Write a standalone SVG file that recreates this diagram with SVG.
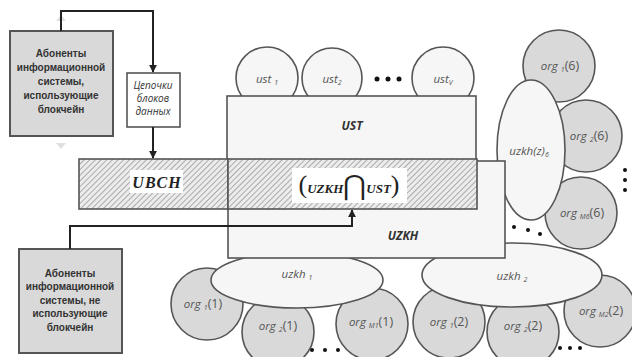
<svg xmlns="http://www.w3.org/2000/svg" width="632" height="357" viewBox="0 0 632 357">
<defs>
<pattern id="hatch" width="4" height="4" patternUnits="userSpaceOnUse" patternTransform="rotate(45)">
<rect width="4" height="4" fill="#ececec"/>
<line x1="0" y1="0" x2="0" y2="4" stroke="#8f8f8f" stroke-width="1.4"/>
</pattern>
<marker id="arr" viewBox="0 0 10 10" refX="9" refY="5" markerWidth="4" markerHeight="4" orient="auto">
<path d="M0,0 L10,5 L0,10 z" fill="#222"/>
</marker>
<style>
.sh{stroke:#555;stroke-width:1.6}
.org{fill:#d9d9d9}
.lt{fill:#f6f6f6}
.box{fill:#d9d9d9;stroke:#555;stroke-width:2}
.lbl{font-family:"Open Sans","Liberation Sans",sans-serif;font-style:italic;font-size:11.5px;fill:#555;text-anchor:middle}
.sub{font-size:7px}
.up{font-style:normal;font-size:12.5px}
.bt{font-family:"Liberation Sans",sans-serif;font-weight:bold;font-size:10px;fill:#333;text-anchor:middle}
.big{font-family:"Open Sans","Liberation Sans",sans-serif;font-style:italic;font-weight:bold;font-size:12px;fill:#333;text-anchor:middle}
.conn{fill:none;stroke:#222;stroke-width:2}
.dot{fill:#111}
</style>
</defs>
<rect width="632" height="357" fill="#fff"/>

<!-- org circles around uzkh(z)6 -->
<g id="org1_6"><circle class="org sh" cx="559" cy="66" r="36"/><text class="lbl" x="560" y="70">org <tspan class="sub" dy="2">1</tspan><tspan class="up" dy="-2">(6)</tspan></text></g>
<g id="org2_6"><circle class="org sh" cx="586" cy="136" r="36"/><text class="lbl" x="589" y="140">org <tspan class="sub" dy="2">2</tspan><tspan class="up" dy="-2">(6)</tspan></text></g>
<g id="orgM6_6"><circle class="org sh" cx="581" cy="213" r="36"/><text class="lbl" x="582" y="217">org <tspan class="sub" dy="2">M6</tspan><tspan class="up" dy="-2">(6)</tspan></text></g>
<g id="uzkhz6"><ellipse class="lt sh" cx="531" cy="150" rx="34" ry="70"/><text class="lbl" x="529" y="155">uzkh(z)<tspan class="sub" dy="2">6</tspan></text></g>

<!-- bottom org circles -->
<g id="org1_1"><circle class="org sh" cx="207" cy="304" r="36"/><text class="lbl" x="203" y="308">org <tspan class="sub" dy="2">1</tspan><tspan class="up" dy="-2">(1)</tspan></text></g>
<g id="org2_1"><circle class="org sh" cx="278" cy="332" r="36"/><text class="lbl" x="278" y="330">org <tspan class="sub" dy="2">2</tspan><tspan class="up" dy="-2">(1)</tspan></text></g>
<g id="orgM1_1"><circle class="org sh" cx="372" cy="324" r="36"/><text class="lbl" x="371" y="326">org <tspan class="sub" dy="2">M1</tspan><tspan class="up" dy="-2">(1)</tspan></text></g>
<g id="org1_2"><circle class="org sh" cx="449" cy="322" r="36"/><text class="lbl" x="449" y="326">org <tspan class="sub" dy="2">1</tspan><tspan class="up" dy="-2">(2)</tspan></text></g>
<g id="org2_2"><circle class="org sh" cx="523" cy="332" r="36"/><text class="lbl" x="523" y="330">org <tspan class="sub" dy="2">2</tspan><tspan class="up" dy="-2">(2)</tspan></text></g>
<g id="orgM2_2"><circle class="org sh" cx="600" cy="311" r="36"/><text class="lbl" x="601" y="315">org <tspan class="sub" dy="2">M2</tspan><tspan class="up" dy="-2">(2)</tspan></text></g>

<g id="uzkh1"><ellipse class="lt sh" cx="297" cy="280" rx="86" ry="28"/><text class="lbl" x="297" y="278">uzkh <tspan class="sub" dy="2">1</tspan></text></g>
<g id="uzkh2"><ellipse class="lt sh" cx="512" cy="275" rx="90" ry="32"/><text class="lbl" x="512" y="280">uzkh <tspan class="sub" dy="2">2</tspan></text></g>

<!-- ust circles -->
<g id="ust1"><circle class="lt sh" cx="267" cy="78" r="31"/><text class="lbl" x="267" y="83">ust <tspan class="sub" dy="2">1</tspan></text></g>
<g id="ust2"><circle class="lt sh" cx="332" cy="78" r="30"/><text class="lbl" x="332" y="83">ust<tspan class="sub" dy="2">2</tspan></text></g>
<g id="ustV"><circle class="lt sh" cx="443" cy="78" r="31"/><text class="lbl" x="443" y="83">ust<tspan class="sub" dy="2">V</tspan></text></g>

<!-- UST and UZKH -->
<g id="UST"><rect class="lt sh" x="227" y="96" width="249" height="113"/><text class="big" x="352" y="130">UST</text></g>
<g id="UZKH"><rect class="lt sh" x="228" y="161" width="277" height="97"/><text class="big" x="403" y="240">UZKH</text></g>

<!-- hatched band -->
<g id="UBCH">
<rect x="79" y="159" width="149" height="50" fill="url(#hatch)" class="sh"/>
<rect x="130" y="170" width="53" height="23" fill="#fff"/>
<text x="157" y="188" font-family="'Liberation Serif',serif" font-weight="bold" font-style="italic" font-size="16" letter-spacing="1" fill="#222" text-anchor="middle">UBCH</text>
</g>
<g id="intersection">
<rect x="228" y="159" width="249" height="50" fill="url(#hatch)" class="sh"/>
<rect x="292" y="168" width="115" height="35" fill="#fff"/>
<text x="349" y="193" font-family="'Liberation Serif',serif" fill="#222" text-anchor="middle"><tspan font-size="26">(</tspan><tspan font-size="13" font-weight="bold" font-style="italic">UZKH</tspan><tspan font-size="28" font-family="'DejaVu Serif',serif" dy="2">⋂</tspan><tspan font-size="13" font-weight="bold" font-style="italic" dy="-2">UST</tspan><tspan font-size="26">)</tspan></text>
</g>

<!-- left boxes -->
<g id="subscribers_bc">
<path d="M56,21 L61,15 L66,21 z" fill="#e0e0e0"/>
<path d="M56,143 L61,149 L66,143 z" fill="#e0e0e0"/>
<rect class="box" x="10" y="31" width="103" height="105"/>
<text class="bt" x="61" y="57">Абоненты</text>
<text class="bt" x="61" y="71">информационной</text>
<text class="bt" x="61" y="85">системы,</text>
<text class="bt" x="61" y="99">использующие</text>
<text class="bt" x="61" y="113">блокчейн</text>
</g>
<g id="chains">
<rect x="127" y="73" width="53" height="54" fill="#fff" stroke="#555" stroke-width="1.6"/>
<text x="153" y="89" font-family="'Open Sans',sans-serif" font-style="italic" font-size="10" fill="#333" text-anchor="middle">Цепочки</text>
<text x="153" y="102" font-family="'Open Sans',sans-serif" font-style="italic" font-size="10" fill="#333" text-anchor="middle">блоков</text>
<text x="153" y="115" font-family="'Open Sans',sans-serif" font-style="italic" font-size="10" fill="#333" text-anchor="middle">данных</text>
</g>
<g id="subscribers_nobc">
<rect class="box" x="19" y="249" width="103" height="104"/>
<text class="bt" x="70" y="277">Абоненты</text>
<text class="bt" x="70" y="290">информационной</text>
<text class="bt" x="70" y="304">системы, не</text>
<text class="bt" x="70" y="317">использующие</text>
<text class="bt" x="70" y="331">блокчейн</text>
</g>

<!-- connectors -->
<g id="connectors">
<path class="conn" d="M61,31 V11 H153 V72" marker-end="url(#arr)"/>
<path class="conn" d="M153,127 V158" marker-end="url(#arr)"/>
<path class="conn" d="M70,249 V226 H352 V210" marker-end="url(#arr)"/>
</g>

<!-- dots -->
<g id="dots">
<circle class="dot" cx="377" cy="79" r="2.5"/><circle class="dot" cx="388" cy="79" r="2.5"/><circle class="dot" cx="399" cy="79" r="2.5"/>
<circle class="dot" cx="625" cy="170" r="2"/><circle class="dot" cx="625" cy="180" r="2"/><circle class="dot" cx="625" cy="190" r="2"/>
<circle class="dot" cx="514" cy="227" r="2"/><circle class="dot" cx="528" cy="230" r="2"/><circle class="dot" cx="540" cy="234" r="2"/>
<circle class="dot" cx="312" cy="350" r="2"/><circle class="dot" cx="325" cy="350" r="2"/><circle class="dot" cx="338" cy="350" r="2"/>
<circle class="dot" cx="560" cy="348" r="2"/><circle class="dot" cx="570" cy="348" r="2"/><circle class="dot" cx="580" cy="348" r="2"/>
</g>
</svg>
